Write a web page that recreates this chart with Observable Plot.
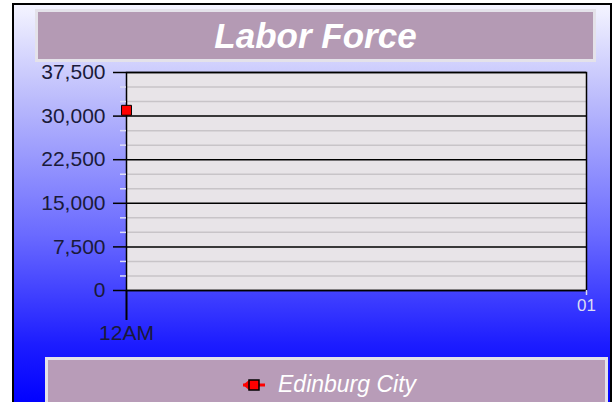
<!DOCTYPE html>
<html>
<head>
<meta charset="utf-8">
<script src="https://cdn.jsdelivr.net/npm/d3@7"></script>
<script src="https://cdn.jsdelivr.net/npm/@observablehq/plot@0.6"></script>
<style>
  html, body { margin: 0; padding: 0; background: #ffffff; }
  #page { position: relative; width: 614px; height: 402px; overflow: hidden; background: #ffffff; font-family: "Liberation Sans", Arial, sans-serif; }
  #frame { position: absolute; left: 12px; top: 3px; width: 596px; height: 410px; border: 2px solid #000;
           background: linear-gradient(to bottom, #f4f4ff 0px, #b8b8fc 100px, #6a6aff 230px, #1c1cff 340px, #0000ff 400px); }
  #title { position: absolute; left: 35px; top: 9px; width: 555px; height: 47px; background: #b49ab4;
           border: 3px solid #e4e2ea; color: #fff; font-weight: bold; font-style: italic; font-size: 35px;
           display: flex; align-items: center; justify-content: center; }
  #chart { position: absolute; left: 0; top: 0; }
  #legend { position: absolute; left: 45px; top: 357px; width: 557px; height: 60px; background: #b89cb8;
            border: 3px solid #e4e2ea; }
  #legend .item { position: absolute; left: 193px; top: 11px; display: flex; align-items: center; color: #fff;
                  font-style: italic; font-size: 23px; }
</style>
</head>
<body>
<div id="page">
  <div id="frame"></div>
  <div id="title"></div>
  <div id="chart"></div>
  <div id="legend"><div class="item"><svg width="28" height="16" viewBox="0 0 28 16"><path d="M2 8 L8 3 L8 13 Z" fill="#ff0000"/><line x1="2" y1="8" x2="24" y2="8" stroke="#ff0000" stroke-width="3"/><rect x="8" y="3" width="10" height="10" fill="#ff0000" stroke="#000" stroke-width="1.5"/></svg><span id="legendLabel" style="margin-left:9px"></span></div></div>
</div>
<script>
const title = "Labor Force";
const seriesName = "Edinburg City";
const times = ["2000-01-01T00:00:00Z"];
const laborForce = [31000];
const xDomain = ["2000-01-01T00:00:00Z", "2000-01-01T01:00:00Z"];
const xTickLabels = ["12AM", "01"];
const yMajorTicks = [0, 7500, 15000, 22500, 30000, 37500];
const yMinorTicks = [2500, 5000, 10000, 12500, 17500, 20000, 25000, 27500, 32500, 35000];

document.getElementById("title").textContent = title;
document.getElementById("legendLabel").textContent = seriesName;

const data = times.map((t, i) => ({time: new Date(t), value: laborForce[i]}));
const xd = xDomain.map(d => new Date(d));

const chart = Plot.plot({
  width: 614,
  height: 358,
  marginLeft: 126,
  marginRight: 28,
  marginTop: 72,
  marginBottom: 68,
  style: {background: "transparent", fontFamily: "Liberation Sans, Arial, sans-serif"},
  x: {type: "utc", domain: xd, label: null},
  y: {domain: [0, 37500], label: null},
  marks: [
    Plot.frame({fill: "#e8e4e8"}),
    Plot.gridY(yMinorTicks, {stroke: "#c8c4c8", strokeOpacity: 1, strokeWidth: 1.5}),
    Plot.gridY(yMajorTicks, {stroke: "#000", strokeOpacity: 1, strokeWidth: 1.5}),
    Plot.frame({stroke: "#000", strokeWidth: 1.5}),
    Plot.axisY(yMinorTicks, {tickSize: 6, stroke: "#dcdcf4", strokeWidth: 1.5, text: null, label: null}),
    Plot.axisY(yMajorTicks, {tickSize: 13, tickPadding: 8, stroke: "#000", strokeWidth: 1.5, label: null,
      tickFormat: d3.format(","), fontSize: 21, fill: "#1a1a3a"}),
    Plot.axisX([xd[0]], {tickSize: 30, tickPadding: 5, stroke: "#000", strokeWidth: 2, label: null,
      tickFormat: () => xTickLabels[0], fontSize: 21, fill: "#1a1a3a"}),
    Plot.axisX([xd[1]], {tickSize: 5, tickPadding: 3, stroke: "#d8d8f0", strokeWidth: 1.5, label: null,
      tickFormat: () => xTickLabels[1], fontSize: 17, fill: "#dcdcf4"}),
    Plot.dot(data, {x: "time", y: "value", symbol: "square", r: 5.6, fill: "#ff0000", stroke: "#000", strokeWidth: 1})
  ]
});
document.getElementById("chart").appendChild(chart);
</script>
</body>
</html>
